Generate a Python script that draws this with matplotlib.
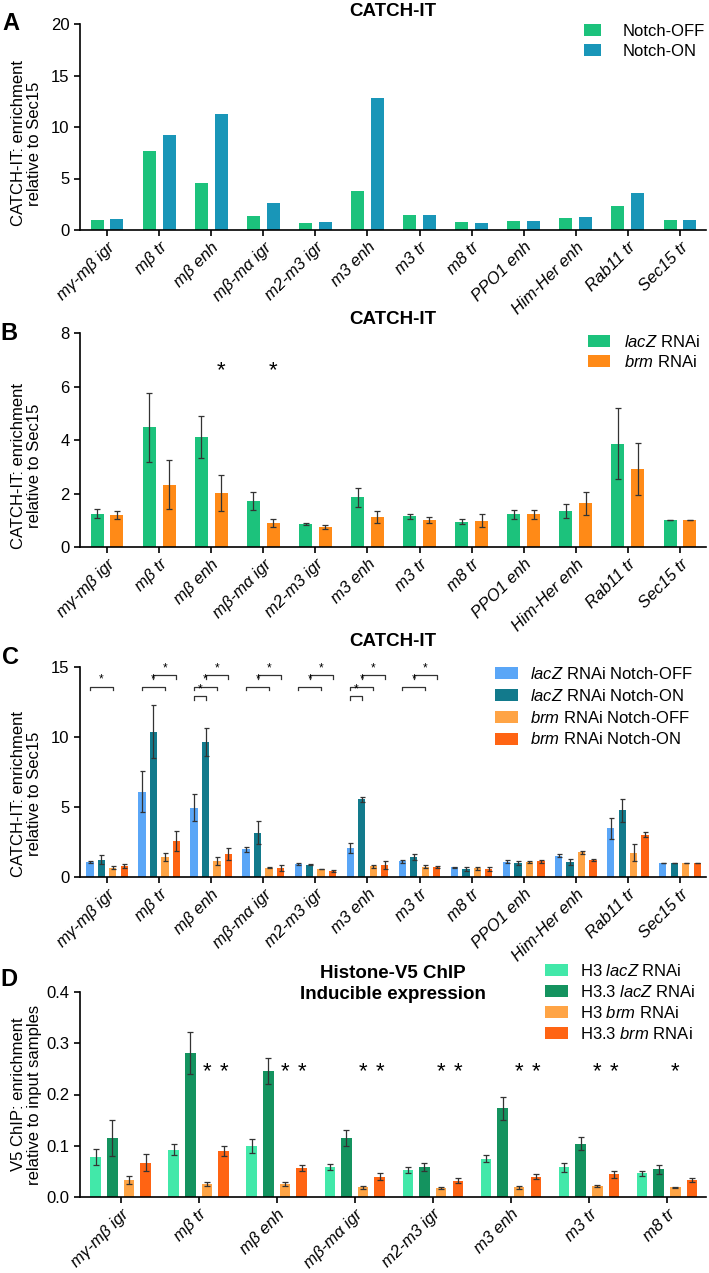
import numpy as np
import matplotlib
matplotlib.use("Agg")
import matplotlib.pyplot as plt

plt.rcParams['font.family'] = ['Liberation Sans', 'DejaVu Sans']
plt.rcParams['mathtext.fontset'] = 'custom'
plt.rcParams['mathtext.it'] = 'Liberation Sans:italic'
plt.rcParams['mathtext.rm'] = 'Liberation Sans'
plt.rcParams['font.size'] = 12

# ---- data ----
regions = ['mγ-mβ igr', 'mβ tr', 'mβ enh', 'mβ-mα igr', 'm2-m3 igr', 'm3 enh',
           'm3 tr', 'm8 tr', 'PPO1 enh', 'Him-Her enh', 'Rab11 tr', 'Sec15 tr']

# panel A
a_off = [0.97, 7.67, 4.60, 1.39, 0.65, 3.82, 1.42, 0.74, 0.87, 1.17, 2.36, 0.97]
a_on = [1.10, 9.22, 11.26, 2.59, 0.78, 12.85, 1.46, 0.71, 0.87, 1.29, 3.62, 1.00]

# panel B
b_lacz = [1.25, 4.47, 4.12, 1.72, 0.87, 1.86, 1.15, 0.95, 1.23, 1.35, 3.86, 1.00]
b_lacz_err = [0.16, 1.28, 0.79, 0.32, 0.03, 0.36, 0.10, 0.08, 0.17, 0.25, 1.33, 0.0]
b_brm = [1.18, 2.33, 2.03, 0.88, 0.74, 1.11, 1.02, 0.98, 1.23, 1.64, 2.93, 1.00]
b_brm_err = [0.15, 0.91, 0.68, 0.15, 0.07, 0.22, 0.12, 0.25, 0.17, 0.43, 0.97, 0.0]
b_star_groups = [2, 3]

# panel C
c_lacz_off = [1.07, 6.10, 4.95, 1.98, 0.93, 2.07, 1.12, 0.69, 1.10, 1.52, 3.48, 1.00]
c_lacz_off_err = [0.10, 1.48, 0.95, 0.19, 0.08, 0.38, 0.10, 0.05, 0.10, 0.10, 0.76, 0.0]
c_lacz_on = [1.24, 10.38, 9.62, 3.17, 0.88, 5.55, 1.43, 0.57, 0.98, 1.07, 4.76, 1.00]
c_lacz_on_err = [0.30, 1.90, 1.00, 0.80, 0.05, 0.17, 0.20, 0.12, 0.15, 0.20, 0.83, 0.0]
c_brm_off = [0.67, 1.40, 1.14, 0.67, 0.57, 0.76, 0.74, 0.62, 1.07, 1.76, 1.74, 1.00]
c_brm_off_err = [0.12, 0.28, 0.28, 0.05, 0.03, 0.12, 0.10, 0.10, 0.08, 0.10, 0.60, 0.0]
c_brm_on = [0.81, 2.57, 1.62, 0.64, 0.45, 0.88, 0.69, 0.55, 1.12, 1.19, 3.02, 1.00]
c_brm_on_err = [0.15, 0.70, 0.43, 0.20, 0.07, 0.29, 0.08, 0.15, 0.10, 0.07, 0.17, 0.0]
# significance brackets: (group, bar a, bar b, height)
c_brackets = [(0, 0, 2, 13.6),
              (1, 0, 2, 13.6), (1, 1, 3, 14.4),
              (2, 0, 1, 12.9), (2, 0, 2, 13.6), (2, 1, 3, 14.4),
              (3, 0, 2, 13.6), (3, 1, 3, 14.4),
              (4, 0, 2, 13.6), (4, 1, 3, 14.4),
              (5, 0, 1, 12.9), (5, 0, 2, 13.6), (5, 1, 3, 14.4),
              (6, 0, 2, 13.6), (6, 1, 3, 14.4)]

# panel D
d_regions = regions[:8]
d_h3_lacz = [0.078, 0.092, 0.099, 0.059, 0.053, 0.075, 0.058, 0.046]
d_h3_lacz_err = [0.016, 0.011, 0.014, 0.006, 0.006, 0.006, 0.009, 0.005]
d_h33_lacz = [0.115, 0.281, 0.246, 0.115, 0.059, 0.173, 0.104, 0.054]
d_h33_lacz_err = [0.035, 0.041, 0.025, 0.016, 0.008, 0.023, 0.013, 0.009]
d_h3_brm = [0.033, 0.025, 0.025, 0.019, 0.0175, 0.019, 0.022, 0.019]
d_h3_brm_err = [0.008, 0.004, 0.004, 0.003, 0.002, 0.003, 0.002, 0.001]
d_h33_brm = [0.067, 0.090, 0.057, 0.040, 0.032, 0.040, 0.044, 0.034]
d_h33_brm_err = [0.017, 0.010, 0.006, 0.006, 0.005, 0.005, 0.006, 0.004]
d_star_h3 = [1, 2, 3, 4, 5, 6, 7]      # stars over H3 brm
d_star_h33 = [1, 2, 3, 4, 5, 6]        # stars over H3.3 brm

GREEN = '#1cc27c'
TEAL = '#1996b8'
ORANGE = '#ff8a17'
C_COLS = ['#5aa6f7', '#127a8c', '#ffa445', '#ff6413']
D_COLS = ['#42e8a9', '#14935f', '#ffa445', '#ff6413']

W, H = 709, 1273
fig = plt.figure(figsize=(W / 100, H / 100), dpi=100)
TITLE_X = 393 / W


def add_ax(top_px, bot_px, left_px=80, right_px=706):
    return fig.add_axes([left_px / W, 1 - bot_px / H,
                         (right_px - left_px) / W, (bot_px - top_px) / H])


def style(ax, labels, ylim, yticks, ylabel, label_frac, nx, yfmt=None):
    ax.spines['top'].set_visible(False)
    ax.spines['right'].set_visible(False)
    ax.spines['left'].set_linewidth(1.2)
    ax.spines['bottom'].set_linewidth(1.2)
    ax.set_xlim(-0.52, nx - 0.5)
    ax.set_ylim(*ylim)
    ax.set_yticks(yticks)
    if yfmt:
        ax.set_yticklabels([yfmt.format(t) for t in yticks])
    ax.set_xticks(np.arange(nx))
    ax.set_xticklabels(labels, rotation=45, ha='right', rotation_mode='anchor',
                       style='italic', fontsize=12)
    ax.tick_params(axis='both', direction='out', length=4, width=1.2, labelsize=12)
    ax.tick_params(axis='x', pad=3)
    ax.set_ylabel(ylabel, fontsize=12, va='center', linespacing=1.1)
    ax.yaxis.set_label_coords(-0.085, label_frac)


def legend(ax, handles, labels, x_px, y_px, hl, htp, ls):
    ax.legend(handles, labels, loc='upper left', frameon=False,
              bbox_to_anchor=(x_px / W, 1 - y_px / H), bbox_transform=fig.transFigure,
              borderpad=0, borderaxespad=0, handlelength=hl, handletextpad=htp,
              labelspacing=ls, fontsize=12)


err_kw = dict(elinewidth=0.9, ecolor='#333333', capthick=0.9)
cat_lbl = 'CATCH-IT: enrichment\nrelative to Sec15'

# ---- A ----
axA = add_ax(24, 230)
x = np.arange(len(regions))
hA1 = axA.bar(x - 0.19, a_off, 0.25, color=GREEN)
hA2 = axA.bar(x + 0.19, a_on, 0.25, color=TEAL)
style(axA, regions, (0, 20), [0, 5, 10, 15, 20], cat_lbl, 0.42, len(regions))
legend(axA, [hA1, hA2], ['Notch-OFF', 'Notch-ON'], 584, 24, 1.0, 1.3, 0.3)
fig.text(TITLE_X, 1 - 12 / H, 'CATCH-IT', ha='center', va='center',
         fontsize=13.5, fontweight='bold')
fig.text(2 / W, 1 - 24 / H, 'A', ha='left', va='center', fontsize=17, fontweight='bold')

# ---- B ----
axB = add_ax(333, 547)
hB1 = axB.bar(x - 0.19, b_lacz, 0.25, color=GREEN, yerr=b_lacz_err, capsize=2.5,
              error_kw=err_kw)
hB2 = axB.bar(x + 0.19, b_brm, 0.25, color=ORANGE, yerr=b_brm_err, capsize=2.5,
              error_kw=err_kw)
for g in b_star_groups:
    axB.text(g + 0.19, 6.6, '*', ha='center', va='center', fontsize=16)
style(axB, regions, (0, 8), [0, 2, 4, 6, 8], cat_lbl, 0.38, len(regions))
legend(axB, [hB1, hB2], ['$\\it{lacZ}$ RNAi', '$\\it{brm}$ RNAi'], 588, 334, 1.3, 0.85, 0.25)
fig.text(TITLE_X, 1 - 319 / H, 'CATCH-IT', ha='center', va='center',
         fontsize=13.5, fontweight='bold')
fig.text(0 / W, 1 - 333 / H, 'B', ha='left', va='center', fontsize=17, fontweight='bold')

# ---- C ----
axC = add_ax(667, 877)
c_vals = [c_lacz_off, c_lacz_on, c_brm_off, c_brm_on]
c_errs = [c_lacz_off_err, c_lacz_on_err, c_brm_off_err, c_brm_on_err]
offs4 = np.array([-0.33, -0.11, 0.11, 0.33])
hC = []
for i in range(4):
    hC.append(axC.bar(x + offs4[i], c_vals[i], 0.14, color=C_COLS[i], yerr=c_errs[i],
                      capsize=1.8, error_kw=err_kw))
for g, a, b, h in c_brackets:
    xa, xb = g + offs4[a], g + offs4[b]
    axC.plot([xa, xa, xb, xb], [h - 0.25, h, h, h - 0.25], color='#333333', lw=0.9)
    axC.text((xa + xb) / 2, h + 0.05, '*', ha='center', va='bottom', fontsize=8.5)
style(axC, regions, (0, 15), [0, 5, 10, 15], cat_lbl, 0.395, len(regions))
legend(axC, hC, ['$\\it{lacZ}$ RNAi Notch-OFF', '$\\it{lacZ}$ RNAi Notch-ON',
                 '$\\it{brm}$ RNAi Notch-OFF', '$\\it{brm}$ RNAi Notch-ON'],
       495, 666, 1.4, 0.7, 0.35)
fig.text(TITLE_X, 1 - 642 / H, 'CATCH-IT', ha='center', va='center',
         fontsize=13.5, fontweight='bold')
fig.text(2 / W, 1 - 657 / H, 'C', ha='left', va='center', fontsize=17, fontweight='bold')

# ---- D ----
axD = add_ax(992, 1197)
xd = np.arange(len(d_regions))
d_vals = [d_h3_lacz, d_h33_lacz, d_h3_brm, d_h33_brm]
d_errs = [d_h3_lacz_err, d_h33_lacz_err, d_h3_brm_err, d_h33_brm_err]
offsD = np.array([-0.32, -0.107, 0.107, 0.32])
hD = []
for i in range(4):
    hD.append(axD.bar(xd + offsD[i], d_vals[i], 0.135, color=D_COLS[i], yerr=d_errs[i],
                      capsize=2.2, error_kw=err_kw))
for g in d_star_h3:
    axD.text(g + offsD[2], 0.244, '*', ha='center', va='center', fontsize=16)
for g in d_star_h33:
    axD.text(g + offsD[3], 0.244, '*', ha='center', va='center', fontsize=16)
style(axD, d_regions, (0, 0.4), [0.0, 0.1, 0.2, 0.3, 0.4],
      'V5 ChIP: enrichment\nrelative to input samples', 0.5, len(d_regions), '{:.1f}')
legend(axD, hD, ['H3 $\\it{lacZ}$ RNAi', 'H3.3 $\\it{lacZ}$ RNAi',
                 'H3 $\\it{brm}$ RNAi', 'H3.3 $\\it{brm}$ RNAi'],
       545, 963, 1.35, 0.75, 0.3)
fig.text(TITLE_X, 1 - 984 / H, 'Histone-V5 ChIP\nInducible expression', ha='center',
         va='center', fontsize=13.5, fontweight='bold', linespacing=1.3)
fig.text(0 / W, 1 - 980 / H, 'D', ha='left', va='center', fontsize=17, fontweight='bold')

fig.savefig('out.png', dpi=100)
